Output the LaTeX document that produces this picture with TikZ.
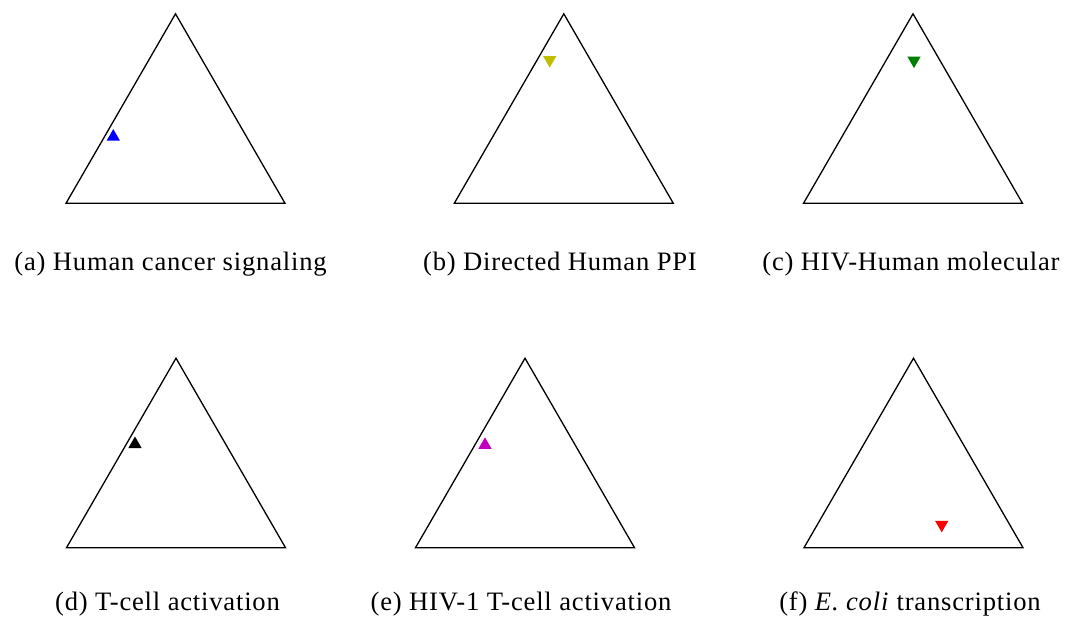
\documentclass[tikz,border=0pt]{standalone}
\usepackage{fontspec}
\setmainfont{Liberation Serif}[LetterSpace=3]
\usetikzlibrary{shapes.geometric}

\definecolor{markyellow}{RGB}{191,191,0}
\definecolor{markgreen}{RGB}{0,128,0}
\definecolor{markmagenta}{RGB}{191,0,191}

\tikzset{
  frame/.style={draw=black, line width=0.65pt, line join=miter},
  upmark/.style={regular polygon, regular polygon sides=3, minimum size=7.7pt,
    inner sep=0pt, draw=none},
  downmark/.style={upmark, shape border rotate=180},
  caption/.style={anchor=base, inner sep=0pt, font=\fontsize{13.3}{15}\selectfont},
}

% ternary frame: equilateral triangle from its lower-left corner
\newcommand{\ternframe}[2]{%
  \draw[frame] (#1,#2) -- ++(219,0) -- ++(-109.5,-189.5) -- cycle;}

\begin{document}
\begin{tikzpicture}[x=0.5pt, y=-0.5pt]
\useasboundingbox (0,0) rectangle (1066,621);

% first row
\ternframe{66}{203.3}
\ternframe{454.3}{203.3}
\ternframe{803.5}{203.3}
\node[upmark, fill=blue] (ma) at (113.3,136.8) {};
\node[downmark, fill=markyellow] (mb) at (549.7,59.9) {};
\node[downmark, fill=markgreen] (mc) at (914,60.4) {};
\node[caption] (ca) at (170.5,270) {(a) Human cancer signaling};
\node[caption] (cb) at (560,270) {(b) Directed Human PPI};
\node[caption] (cc) at (911,270) {(c) HIV-Human molecular};

% second row
\ternframe{66.5}{547.7}
\ternframe{415.5}{547.7}
\ternframe{804}{547.7}
\node[upmark, fill=black] (md) at (135,444.2) {};
\node[upmark, fill=markmagenta] (me) at (485,445) {};
\node[downmark, fill=red] (mf) at (941.7,524.6) {};
\node[caption] (cd) at (167.5,610) {(d) T-cell activation};
\node[caption] (ce) at (521,610) {(e) HIV-1 T-cell activation};
\node[caption] (cf) at (910,610) {(f) \textit{E.~coli} transcription};
\end{tikzpicture}
\end{document}
